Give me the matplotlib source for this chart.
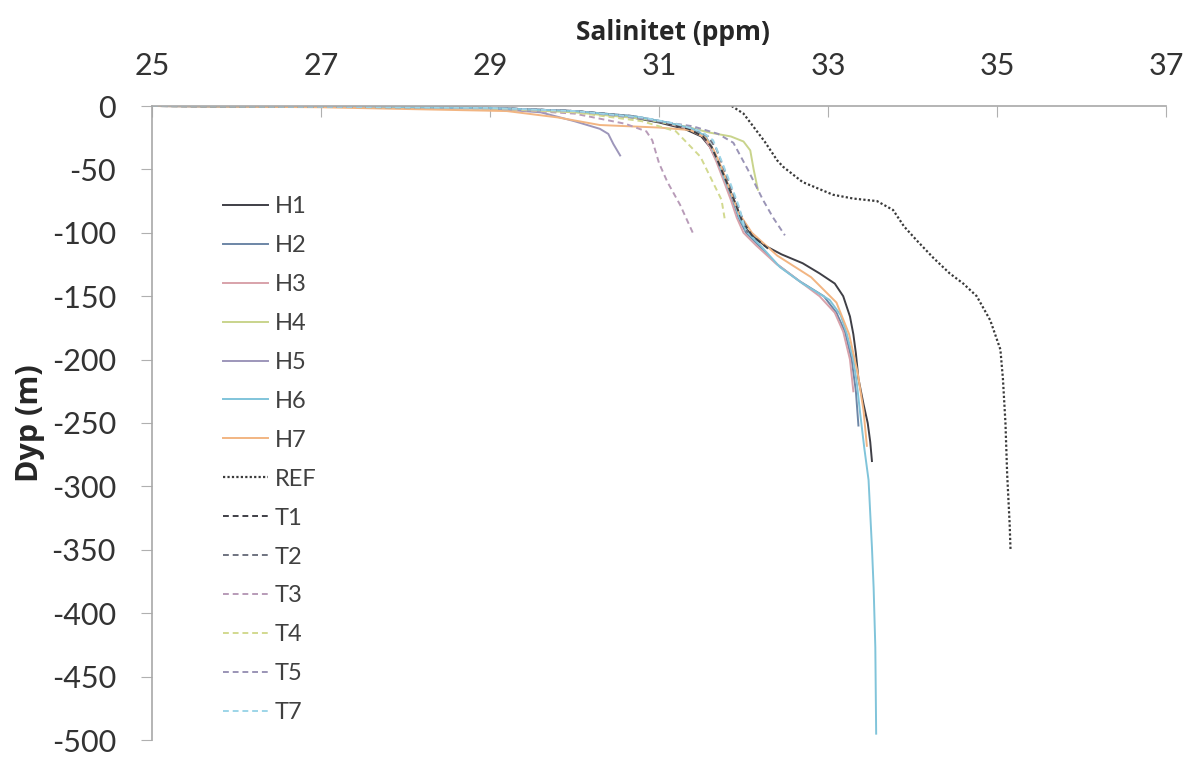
import matplotlib
matplotlib.use("Agg")
import matplotlib.pyplot as plt

plt.rcParams['font.family'] = ['Lato', 'DejaVu Sans']
plt.rcParams['axes.unicode_minus'] = False

# salinity (ppm) and depth (m) for each profile
h1_s = [25.0, 27.0, 29.0, 30.0, 30.6, 31.0, 31.3, 31.5, 31.6, 31.66, 31.75, 31.84, 31.9, 31.97, 32.1,
        32.25, 32.45, 32.7, 32.9, 33.08, 33.18, 33.26, 33.3, 33.33, 33.36, 33.42, 33.47, 33.5, 33.52]
h1_d = [0, -0.5, -1.5, -4, -8, -13, -18, -24, -32, -40, -52, -66, -78, -92, -102,
        -110, -117, -124, -132, -140, -150, -166, -180, -195, -215, -235, -250, -265, -280]

h2_s = [25.0, 27.0, 29.0, 30.0, 30.7, 31.1, 31.4, 31.55, 31.62, 31.7, 31.78, 31.87, 31.94, 32.03, 32.18,
        32.4, 32.66, 32.95, 33.1, 33.2, 33.28, 33.33, 33.36]
h2_d = [0, -0.5, -1.5, -4, -8, -13, -18, -24, -32, -44, -58, -74, -88, -100, -110,
        -125, -138, -150, -163, -178, -200, -225, -252]

h3_s = [25.0, 27.0, 29.0, 30.0, 30.7, 31.05, 31.35, 31.52, 31.6, 31.68, 31.76, 31.85, 31.92, 32.0, 32.15,
        32.38, 32.62, 32.9, 33.08, 33.18, 33.26, 33.3]
h3_d = [0, -0.5, -1.5, -4, -8, -13, -18, -24, -32, -44, -58, -74, -88, -100, -110,
        -124, -136, -150, -163, -178, -200, -225]

h4_s = [25.0, 27.0, 29.0, 30.0, 30.8, 31.3, 31.6, 31.85, 32.0, 32.08, 32.12, 32.17]
h4_d = [0, -0.5, -2, -5, -10, -16, -21, -24, -28, -35, -50, -66]

h5_s = [25.0, 27.0, 29.0, 29.6, 30.0, 30.3, 30.4, 30.46, 30.54]
h5_d = [0, -0.5, -2, -5, -12, -18, -22, -30, -39]

h6_s = [25.0, 27.0, 29.0, 30.0, 30.7, 31.1, 31.4, 31.55, 31.62, 31.7, 31.78, 31.88, 31.95, 32.05, 32.2,
        32.43, 32.7, 33.02, 33.15, 33.22, 33.3, 33.34, 33.38, 33.43, 33.48, 33.52, 33.54, 33.56, 33.57]
h6_d = [0, -0.5, -1.5, -4, -8, -13, -18, -24, -32, -44, -58, -74, -88, -100, -110,
        -127, -140, -153, -165, -179, -200, -218, -242, -270, -295, -348, -380, -427, -495]

h7_s = [25.0, 27.0, 29.2, 29.8, 30.3, 31.0, 31.37, 31.55, 31.65, 31.75, 31.85, 31.95, 32.1, 32.4,
        32.8, 33.1, 33.25, 33.35, 33.42, 33.46]
h7_d = [0, -1, -4, -9, -15, -17, -19, -25, -35, -50, -68, -85, -100, -118,
        -135, -155, -180, -210, -240, -268]

ref_s = [31.86, 32.0, 32.08, 32.25, 32.4, 32.47, 32.7, 33.06, 33.3, 33.58, 33.77, 33.9, 34.05, 34.25,
         34.44, 34.6, 34.76, 34.92, 35.04, 35.07, 35.1, 35.12, 35.15, 35.16]
ref_d = [0, -6, -13, -28, -43, -48, -60, -70, -73, -75, -82, -95, -106, -120,
         -132, -140, -150, -169, -192, -215, -250, -290, -330, -350]

t1_s = [25.0, 27.0, 29.0, 30.0, 30.65, 31.05, 31.35, 31.52, 31.62, 31.7, 31.8, 31.9, 31.98, 32.1, 32.3]
t1_d = [0, -0.5, -1.5, -4, -8, -13, -18, -24, -32, -44, -60, -76, -90, -102, -113]

t2_s = [25.0, 27.0, 29.0, 30.0, 30.7, 31.1, 31.42, 31.58, 31.68, 31.76, 31.85, 31.95, 32.05]
t2_d = [0, -0.5, -1.5, -4, -8, -13, -18, -24, -34, -48, -64, -82, -100]

t3_s = [25.0, 27.0, 29.0, 30.0, 30.6, 30.85, 30.92, 31.0, 31.1, 31.25, 31.4]
t3_d = [0, -0.5, -2, -6, -14, -20, -27, -45, -60, -78, -100]

t4_s = [25.0, 27.0, 29.0, 30.0, 30.8, 31.2, 31.49, 31.6, 31.74, 31.78]
t4_d = [0, -0.5, -2, -5, -12, -20, -40, -55, -74, -90]

t5_s = [25.0, 27.0, 29.0, 30.0, 30.8, 31.4, 31.7, 31.88, 32.05, 32.23, 32.35, 32.49]
t5_d = [0, -0.5, -1.5, -4, -10, -16, -22, -29, -50, -74, -88, -102]

t7_s = [25.0, 27.0, 29.0, 30.0, 30.8, 31.2, 31.5, 31.64, 31.75, 31.85, 31.95, 32.02]
t7_d = [0, -0.5, -1.5, -4, -9, -14, -20, -27, -45, -62, -80, -98]

series = [
    ("H1", h1_s, h1_d, "#3f3f46", "-"),
    ("H2", h2_s, h2_d, "#6d86a6", "-"),
    ("H3", h3_s, h3_d, "#d8a2aa", "-"),
    ("H4", h4_s, h4_d, "#c9d48c", "-"),
    ("H5", h5_s, h5_d, "#9d96ba", "-"),
    ("H6", h6_s, h6_d, "#80c4da", "-"),
    ("H7", h7_s, h7_d, "#f2b582", "-"),
    ("REF", ref_s, ref_d, "#3a3a3a", (0, (1, 1))),
    ("T1", t1_s, t1_d, "#3f3f46", (0, (3, 2))),
    ("T2", t2_s, t2_d, "#6f7380", (0, (3, 2))),
    ("T3", t3_s, t3_d, "#b89bb8", (0, (3, 2))),
    ("T4", t4_s, t4_d, "#d2d98f", (0, (3, 2))),
    ("T5", t5_s, t5_d, "#9a94b6", (0, (3, 2))),
    ("T7", t7_s, t7_d, "#9dd5e8", (0, (3, 2))),
]

fig = plt.figure(figsize=(11.94, 7.6), dpi=100)
ax = fig.add_axes([152 / 1194, 1 - 740 / 760, (1166 - 152) / 1194, (740 - 106) / 760])

for name, s, d, col, ls in series:
    lw = 1.6 if name == "REF" else 1.4
    ax.plot(s, d, color=col, linestyle=ls, linewidth=lw, label=name)

ax.set_xlim(25, 37)
ax.set_ylim(-500, 0)
ax.set_xticks(range(25, 38, 2))
ax.set_yticks(range(-500, 1, 50))
ax.xaxis.tick_top()
ax.xaxis.set_label_position("top")
ax.set_xlabel("Salinitet (ppm)", fontsize=19, fontweight="bold", color="#262626",
              family=["Open Sans", "DejaVu Sans"])
ax.xaxis.set_label_coords(0.514, 1.0 + 66 / 634)
ax.set_ylabel("Dyp (m)", fontsize=22, fontweight="bold", color="#262626",
              family=["Open Sans", "DejaVu Sans"])
ax.yaxis.set_label_coords(-107 / 1014, 0.5)
ax.tick_params(axis="x", direction="in", length=8, labelsize=22, pad=19,
               color="#b0b0b0", labelcolor="#333333")
ax.tick_params(axis="y", direction="out", length=8, labelsize=22, pad=18,
               color="#b0b0b0", labelcolor="#333333")
for side in ("right", "bottom"):
    ax.spines[side].set_visible(False)
for side in ("top", "left"):
    ax.spines[side].set_color("#a8a8a8")
    ax.spines[side].set_linewidth(1.2)

leg = ax.legend(loc="upper left", bbox_to_anchor=(223 / 1194, 1 - 196 / 760),
                bbox_transform=fig.transFigure, frameon=False, borderpad=0, borderaxespad=0,
                fontsize=17, handlelength=1.9, handletextpad=0.3, labelspacing=0.76)
for t in leg.get_texts():
    t.set_color("#404040")

fig.savefig("out.png", dpi=100)
